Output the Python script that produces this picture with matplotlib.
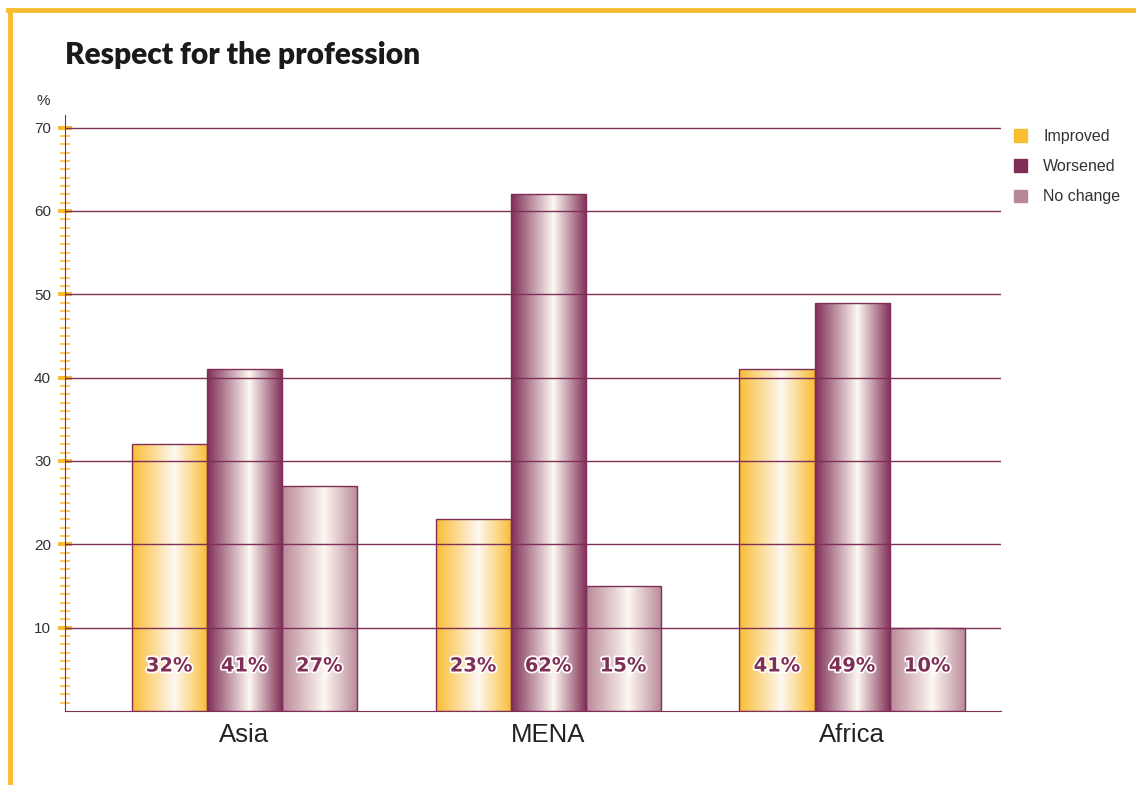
import matplotlib.pyplot as plt
import matplotlib.patheffects as pe
import numpy as np
from matplotlib.colors import LinearSegmentedColormap
from matplotlib.patches import Rectangle

regions = ['Asia', 'MENA', 'Africa']
series = ['Improved', 'Worsened', 'No change']
improved = [32, 23, 41]
worsened = [41, 62, 49]
no_change = [27, 15, 10]
values = [improved, worsened, no_change]
colors = ['#f9bd33', '#7f2e55', '#b98898']
yticks = [10, 20, 30, 40, 50, 60, 70]

purple = '#7f2e55'
orange = '#f9bd33'

fig = plt.figure(figsize=(11.36, 7.85), dpi=100)
ax = fig.add_axes([65 / 1136, 74 / 785, 936 / 1136, 596 / 785])

w = 0.247
x = np.arange(len(regions))

for i, (name, vals, col) in enumerate(zip(series, values, colors)):
    pos = x + (i - 1) * w
    bars = ax.bar(pos, vals, w, color='none', edgecolor=purple, linewidth=1, zorder=3)
    cmap = LinearSegmentedColormap.from_list(name, [(0, col), (0.56, '#fdf8f2'), (1, col)])
    grad = np.linspace(0, 1, 256).reshape(1, -1)
    for b in bars:
        x0, y0 = b.get_x(), b.get_y()
        bw, bh = b.get_width(), b.get_height()
        im = ax.imshow(grad, cmap=cmap, aspect='auto', extent=[x0, x0 + bw, y0, y0 + bh],
                       zorder=2, interpolation='bilinear')
        im.set_clip_path(b)
    for p, v in zip(pos, vals):
        ax.text(p, 5.4, f'{v}%', ha='center', va='center', fontsize=14, fontweight='bold',
                color=purple, zorder=6,
                path_effects=[pe.withStroke(linewidth=2.5, foreground='white')])
    ax.add_patch(Rectangle((0, 0), 0, 0, color=col, label=name))

ax.set_xlim(-0.59, 2.49)
ax.set_ylim(0, 71.5)

for yv in yticks:
    ax.axhline(yv, color=purple, linewidth=1, zorder=4)

ax.spines['top'].set_visible(False)
ax.spines['right'].set_visible(False)
ax.spines['left'].set_color(purple)
ax.spines['bottom'].set_color(purple)
ax.spines['left'].set_zorder(5)
ax.spines['bottom'].set_zorder(5)

ax.set_xticks(x)
ax.set_xticklabels(regions, fontsize=18.5, color='#222222', family='Liberation Sans')
ax.tick_params(axis='x', length=0, pad=9)

ax.set_yticks(yticks)
ax.set_yticklabels([str(v) for v in yticks], fontsize=11, color='#333333', family='Liberation Sans')
ax.set_yticks(np.arange(1, 71), minor=True)
ax.tick_params(axis='y', which='major', direction='inout', length=10, width=2.9, color=orange, pad=5)
ax.tick_params(axis='y', which='minor', direction='inout', length=7.2, width=1.1, color=orange)

leg = ax.legend(loc='upper left', bbox_to_anchor=(0.998, 1.0), frameon=False,
                prop={'family': 'Liberation Sans', 'size': 11.5}, handlelength=0.85,
                handleheight=0.85, handletextpad=1.0, labelspacing=0.94)
for t in leg.get_texts():
    t.set_color('#333333')

fig.text(65 / 1136, 1 - 55 / 785, 'Respect for the profession', fontsize=21.5, fontweight='heavy',
         family=['Lato', 'DejaVu Sans'], color='#1a1a1a', va='center', ha='left')
fig.text(43 / 1136, 1 - 101 / 785, '%', fontsize=11, color='#333333',
         family='Liberation Sans', ha='center', va='center')

# orange frame
fig.add_artist(plt.Line2D([10 / 1136, 10 / 1136], [0, 1 - 10 / 785], color=orange, linewidth=3.5,
                          transform=fig.transFigure))
fig.add_artist(plt.Line2D([8 / 1136, 1], [1 - 10 / 785, 1 - 10 / 785], color=orange, linewidth=3.5,
                          transform=fig.transFigure))

fig.savefig('out.png', dpi=100)
